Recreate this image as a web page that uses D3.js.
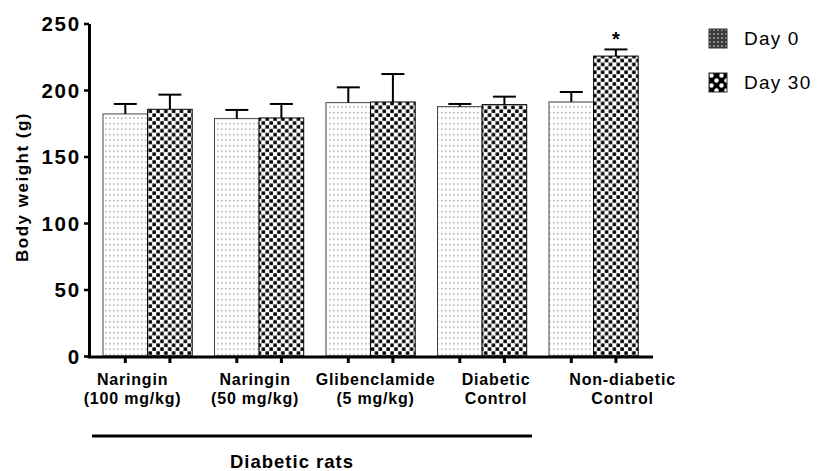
<!DOCTYPE html>
<html>
<head>
<meta charset="utf-8">
<script src="https://cdn.jsdelivr.net/npm/d3@7"></script>
<style>
  body { margin: 0; background: #fff; }
  svg { display: block; }
  text { font-family: Arial, "Liberation Sans", sans-serif; fill: #000; }
</style>
</head>
<body>
<svg width="818" height="471"></svg>
<script>
// data
const categories = [
  ["Naringin", "(100 mg/kg)"],
  ["Naringin", "(50 mg/kg)"],
  ["Glibenclamide", "(5 mg/kg)"],
  ["Diabetic", "Control"],
  ["Non-diabetic", "Control"]
];
const series = ["Day 0", "Day 30"];
const day0 = [182, 178.5, 190.5, 187.5, 191];
const day0Err = [7.5, 6.5, 11.5, 2, 7.5];
const day30 = [185.5, 179, 191, 189, 225.5];
const day30Err = [11, 10.5, 21, 6, 5];
const day30Star = [false, false, false, false, true];
const yTicks = [0, 50, 100, 150, 200, 250];
const groupLabel = "Diabetic rats";
const yTitle = "Body weight (g)";

// label nudges, the original labels are not centred on the groups
const labelDx = [-15, -4, 5, 14, 29];

const svg = d3.select("svg");

// patterns
const defs = svg.append("defs");
let p0 = defs.append("pattern").attr("id", "dots").attr("patternUnits", "userSpaceOnUse")
  .attr("width", 4).attr("height", 5.5);
p0.append("rect").attr("width", 4).attr("height", 5.5).attr("fill", "#fff");
p0.append("rect").attr("x", 1).attr("y", 2).attr("width", 1.5).attr("height", 1.3).attr("fill", "#9a9a9a");

let p1 = defs.append("pattern").attr("id", "checks").attr("patternUnits", "userSpaceOnUse")
  .attr("width", 7.8).attr("height", 7.8);
p1.append("rect").attr("width", 7.8).attr("height", 7.8).attr("fill", "#fff");
p1.append("rect").attr("x", 0.3).attr("y", 0.3).attr("width", 3.5).attr("height", 3.5).attr("fill", "#000");
p1.append("rect").attr("x", 4.2).attr("y", 4.2).attr("width", 3.5).attr("height", 3.5).attr("fill", "#000");

let p2 = defs.append("pattern").attr("id", "leg0").attr("patternUnits", "userSpaceOnUse")
  .attr("width", 4).attr("height", 4);
p2.append("rect").attr("width", 4).attr("height", 4).attr("fill", "#3a3a3a");
p2.append("rect").attr("x", 0).attr("y", 0).attr("width", 2).attr("height", 2).attr("fill", "#8a8a8a");

let p3 = defs.append("pattern").attr("id", "leg1").attr("patternUnits", "userSpaceOnUse")
  .attr("width", 10).attr("height", 10);
p3.append("rect").attr("width", 10).attr("height", 10).attr("fill", "#000");
p3.append("circle").attr("cx", 2.5).attr("cy", 2.5).attr("r", 2.2).attr("fill", "#fff");
p3.append("circle").attr("cx", 7.5).attr("cy", 7.5).attr("r", 2.2).attr("fill", "#fff");

const fills = ["url(#dots)", "url(#checks)"];

// scales
let x = d3.scaleBand()
  .domain(d3.range(categories.length))
  .range([91.85, 649.35])
  .paddingInner(0.2)
  .paddingOuter(0.1);

let xs = d3.scaleBand()
  .domain(series)
  .range([0, x.bandwidth()]);

let y = d3.scaleLinear()
  .domain([0, 250])
  .range([356, 23.5]);

let rows = [];
categories.forEach(function (c, i) {
  rows.push({ g: i, s: series[0], v: day0[i], e: day0Err[i], star: false });
  rows.push({ g: i, s: series[1], v: day30[i], e: day30Err[i], star: day30Star[i] });
});

// bars
svg.selectAll(".bar")
  .data(rows)
  .enter().append("rect")
  .attr("class", "bar")
  .attr("x", d => x(d.g) + xs(d.s))
  .attr("y", d => y(d.v))
  .attr("width", xs.bandwidth())
  .attr("height", d => y(0) - y(d.v))
  .attr("fill", d => fills[series.indexOf(d.s)])
  .attr("stroke", d => d.s === series[0] ? "#444" : "#000")
  .attr("stroke-width", 1);

// error bars (upper only)
let eb = svg.selectAll(".err")
  .data(rows)
  .enter().append("g")
  .attr("class", "err")
  .attr("transform", d => "translate(" + (x(d.g) + xs(d.s) + xs.bandwidth() / 2) + ",0)");
eb.append("line")
  .attr("y1", d => y(d.v))
  .attr("y2", d => y(d.v + d.e))
  .attr("stroke", "#000").attr("stroke-width", 2);
eb.append("line")
  .attr("x1", -11.5).attr("x2", 11.5)
  .attr("y1", d => y(d.v + d.e))
  .attr("y2", d => y(d.v + d.e))
  .attr("stroke", "#000").attr("stroke-width", 2);

svg.selectAll(".star")
  .data(rows.filter(d => d.star))
  .enter().append("text")
  .attr("x", d => x(d.g) + xs(d.s) + xs.bandwidth() / 2)
  .attr("y", d => y(d.v + d.e) - 3)
  .attr("text-anchor", "middle")
  .style("font-size", "20px").style("font-weight", "bold")
  .text("*");

// y axis
let yAxis = svg.append("g")
  .attr("transform", "translate(89,0)")
  .call(d3.axisLeft(y).tickValues(yTicks).tickSize(5).tickPadding(3).tickSizeOuter(0));
yAxis.select(".domain").attr("stroke-width", 3);
yAxis.selectAll(".tick line").attr("stroke-width", 2.5);
yAxis.selectAll(".tick text")
  .style("font-size", "20.5px").style("font-weight", "bold")
  .style("letter-spacing", "1.8px")
  .attr("dy", "0.36em");

// x axis
svg.append("line")
  .attr("x1", 87.5).attr("x2", 653)
  .attr("y1", y(0) + 1).attr("y2", y(0) + 1)
  .attr("stroke", "#000").attr("stroke-width", 3);
svg.selectAll(".xtick")
  .data(rows)
  .enter().append("line")
  .attr("x1", d => x(d.g) + xs(d.s) + xs.bandwidth() / 2)
  .attr("x2", d => x(d.g) + xs(d.s) + xs.bandwidth() / 2)
  .attr("y1", y(0) + 2).attr("y2", y(0) + 7)
  .attr("stroke", "#000").attr("stroke-width", 3);

let labels = svg.selectAll(".xlab")
  .data(categories)
  .enter().append("text")
  .attr("class", "xlab")
  .attr("text-anchor", "middle")
  .style("font-size", "16px").style("font-weight", "bold")
  .style("letter-spacing", "0.8px");
labels.append("tspan")
  .attr("x", (d, i) => x(i) + x.bandwidth() / 2 + labelDx[i])
  .attr("y", 385)
  .text(d => d[0]);
labels.append("tspan")
  .attr("x", (d, i) => x(i) + x.bandwidth() / 2 + labelDx[i])
  .attr("y", 404)
  .text(d => d[1]);

// bracket under the diabetic groups
svg.append("line")
  .attr("x1", 92).attr("x2", 532)
  .attr("y1", 436).attr("y2", 436)
  .attr("stroke", "#000").attr("stroke-width", 3);
svg.append("text")
  .attr("x", 292).attr("y", 468)
  .attr("text-anchor", "middle")
  .style("font-size", "18.5px").style("font-weight", "bold")
  .style("letter-spacing", "1px")
  .text(groupLabel);

// y title
svg.append("text")
  .attr("transform", "translate(28,187) rotate(-90)")
  .attr("text-anchor", "middle")
  .style("font-size", "17px").style("font-weight", "bold")
  .style("letter-spacing", "1.5px")
  .text(yTitle);

// legend
let legFills = ["url(#leg0)", "url(#leg1)"];
let leg = svg.selectAll(".leg")
  .data(series)
  .enter().append("g")
  .attr("class", "leg")
  .attr("transform", (d, i) => "translate(709," + (29 + i * 44) + ")");
leg.append("rect")
  .attr("width", 18).attr("height", 19)
  .attr("fill", (d, i) => legFills[i])
  .attr("stroke", "#333").attr("stroke-width", 1);
leg.append("text")
  .attr("x", 35).attr("y", 16)
  .style("font-size", "19px")
  .style("letter-spacing", "1.2px")
  .text(d => d);
</script>
</body>
</html>
